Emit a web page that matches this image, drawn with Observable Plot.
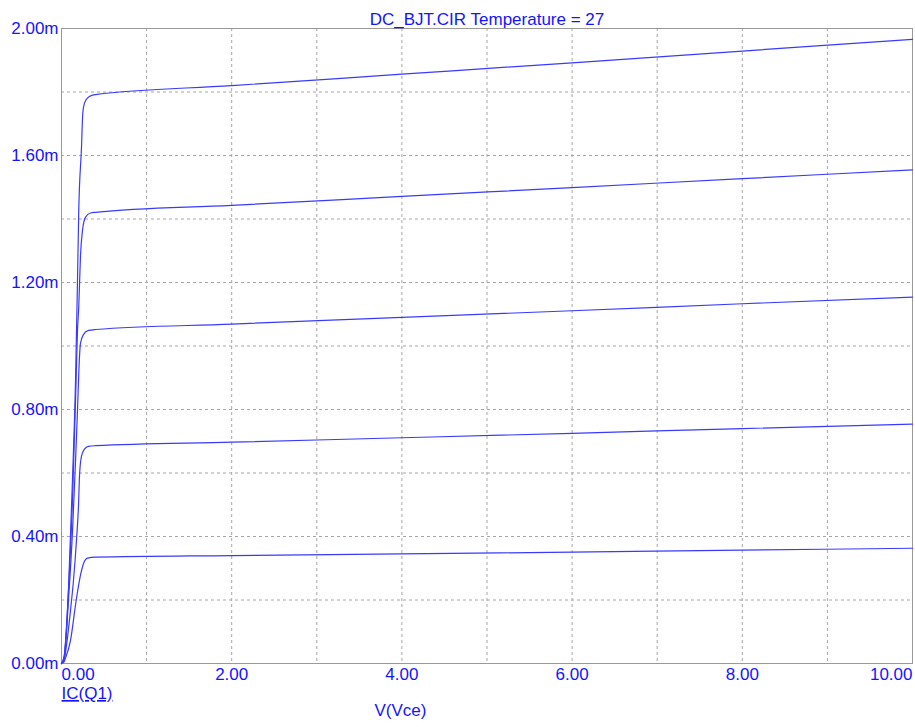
<!DOCTYPE html>
<html><head><meta charset="utf-8">
<script src="https://cdn.jsdelivr.net/npm/d3@7"></script>
<script src="https://cdn.jsdelivr.net/npm/@observablehq/plot@0.6"></script>
<style>body{margin:0;background:#fff}</style>
</head><body><div id="chart"></div>
<script>
// Collector current curves (mA) vs Vce (V), one per base current step
const vce1 = [0, 0.03, 0.047, 0.106, 0.173, 0.223, 0.26, 0.305, 0.4, 2, 4, 6, 8, 10];
const ic1  = [0, 0.005, 0.017, 0.073, 0.2, 0.278, 0.316, 0.332, 0.335, 0.340, 0.345, 0.351, 0.357, 0.363];
const vce2 = [0, 0.03, 0.059, 0.106, 0.141, 0.176, 0.2, 0.212, 0.235, 0.27, 0.317, 0.4, 2, 4, 6, 8, 10];
const ic2  = [0, 0.01, 0.058, 0.168, 0.262, 0.388, 0.499, 0.593, 0.653, 0.675, 0.684, 0.686, 0.697, 0.711, 0.725, 0.740, 0.754];
const vce3 = [0, 0.03, 0.082, 0.13, 0.165, 0.188, 0.206, 0.223, 0.258, 0.317, 0.4, 2, 4, 6, 8, 10];
const ic3  = [0, 0.015, 0.2, 0.42, 0.64, 0.797, 0.935, 1.008, 1.036, 1.049, 1.052, 1.069, 1.090, 1.111, 1.133, 1.154];
const vce4 = [0, 0.03, 0.082, 0.129, 0.165, 0.188, 0.203, 0.223, 0.247, 0.282, 0.341, 0.4, 2, 4, 6, 8, 10];
const ic4  = [0, 0.02, 0.231, 0.514, 0.829, 1.05, 1.125, 1.283, 1.365, 1.406, 1.419, 1.421, 1.443, 1.471, 1.499, 1.527, 1.555];
const vce5 = [0, 0.03, 0.082, 0.129, 0.165, 0.188, 0.203, 0.235, 0.25, 0.27, 0.305, 0.364, 0.4, 2, 4, 6, 8, 10];
const ic5  = [0, 0.02, 0.231, 0.577, 0.892, 1.207, 1.428, 1.626, 1.733, 1.765, 1.781, 1.79, 1.792, 1.820, 1.856, 1.892, 1.929, 1.966];

const xTicks = [0, 2, 4, 6, 8, 10];
const xTickLabels = ["0.00", "2.00", "4.00", "6.00", "8.00", "10.00"];
const yTicks = [0, 0.4, 0.8, 1.2, 1.6, 2.0];
const yTickLabels = ["0.00m", "0.40m", "0.80m", "1.20m", "1.60m", "2.00m"];
const xGrid = [1, 2, 3, 4, 5, 6, 7, 8, 9];
const yGrid = [0.2, 0.4, 0.6, 0.8, 1.0, 1.2, 1.4, 1.6, 1.8];
const titleText = "DC_BJT.CIR Temperature = 27";
const yTitle = "IC(Q1)";
const xTitle = "V(Vce)";

const series = [[vce1, ic1], [vce2, ic2], [vce3, ic3], [vce4, ic4], [vce5, ic5]];
const data = series.flatMap(([vs, is], k) => vs.map((v, j) => ({curve: k, v, i: is[j]})));

const blue = "#1414ff";
const font = "Liberation Sans, Arial, sans-serif";
const fs = 17;
const xt = xTicks.map((t, k) => ({t, label: xTickLabels[k], k}));

const chart = Plot.plot({
  width: 915, height: 727,
  marginLeft: 61, marginRight: 3, marginTop: 28, marginBottom: 64,
  x: {domain: [0, 10], axis: null},
  y: {domain: [0, 2], axis: null},
  style: {fontFamily: font, background: "#fff"},
  marks: [
    Plot.ruleX(xGrid, {stroke: "#a6a6a6", strokeDasharray: "3,3", strokeWidth: 1}),
    Plot.ruleY(yGrid, {stroke: "#a6a6a6", strokeDasharray: "3,3", strokeWidth: 1}),
    Plot.frame({stroke: "#999"}),
    Plot.line(data, {x: "v", y: "i", z: "curve", stroke: "#3a3aff", strokeWidth: 1.2, curve: "monotone-x"}),
    Plot.text(yTicks, {x: 0, y: d => d, text: (d, k) => yTickLabels[k], textAnchor: "end", dx: -3, fill: blue, fontSize: fs}),
    Plot.text(xt.filter(d => d.k === 0), {x: "t", y: 0, text: "label", textAnchor: "start", lineAnchor: "middle", dy: 11, fill: blue, fontSize: fs}),
    Plot.text(xt.filter(d => d.k > 0 && d.k < xt.length - 1), {x: "t", y: 0, text: "label", textAnchor: "middle", lineAnchor: "middle", dy: 11, fill: blue, fontSize: fs}),
    Plot.text(xt.filter(d => d.k === xt.length - 1), {x: "t", y: 0, text: "label", textAnchor: "end", lineAnchor: "middle", dy: 11, fill: blue, fontSize: fs}),
    Plot.text([titleText], {frameAnchor: "top", lineAnchor: "middle", dy: -9, text: d => d, fill: blue, fontSize: fs}),
    Plot.text([yTitle], {frameAnchor: "bottom-left", textAnchor: "start", lineAnchor: "middle", dy: 30, text: d => d, fill: blue, fontSize: fs}),
    Plot.text([xTitle], {frameAnchor: "bottom-left", textAnchor: "middle", lineAnchor: "middle", dx: 339, dy: 47, text: d => d, fill: blue, fontSize: fs})
  ]
});
d3.select(chart).selectAll("text").filter(function() { return this.textContent === yTitle; })
  .style("text-decoration", "underline");
document.getElementById("chart").appendChild(chart);
</script>
</body></html>
